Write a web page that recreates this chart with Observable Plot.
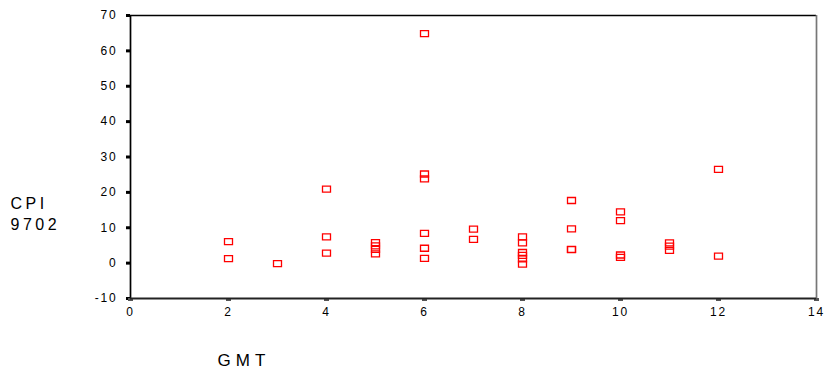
<!DOCTYPE html>
<html>
<head>
<meta charset="utf-8">
<script src="https://cdn.jsdelivr.net/npm/d3@7"></script>
<script src="https://cdn.jsdelivr.net/npm/@observablehq/plot@0.6"></script>
<style>
  html, body { margin: 0; padding: 0; background: #fff; }
  svg text { font-family: "Liberation Sans", Arial, sans-serif; }
</style>
</head>
<body>
<div id="chart"></div>
<script>
const gmt = [2, 2, 3, 4, 4, 4, 5, 5, 5, 5, 6, 6, 6, 6, 6, 6, 7, 7, 8, 8, 8, 8, 8, 8, 9, 9, 9, 9, 10, 10, 10, 10, 11, 11, 11, 12, 12];
const cpi = [6.1, 1.3, -0.15, 20.9, 7.4, 2.8, 5.8, 4.9, 3.9, 2.6, 64.9, 25.2, 23.8, 8.4, 4.2, 1.35, 9.6, 6.7, 7.4, 5.7, 3.0, 2.2, 1.2, -0.3, 17.7, 9.7, 3.9, 3.8, 14.5, 12.0, 2.3, 1.6, 5.7, 4.8, 3.6, 26.5, 2.0];
const xTicks = [0, 2, 4, 6, 8, 10, 12, 14];
const yTicks = [-10, 0, 10, 20, 30, 40, 50, 60, 70];
const yTitle = ["CPI", "9702"];
const xTitle = ["GMT"];

const points = gmt.map((g, i) => ({gmt: g, cpi: cpi[i]}));

const rectSymbol = {
  draw(ctx, size) {
    const w = 8, h = 6;
    ctx.moveTo(-w / 2, -h / 2);
    ctx.lineTo(w / 2, -h / 2);
    ctx.lineTo(w / 2, h / 2);
    ctx.lineTo(-w / 2, h / 2);
    ctx.closePath();
  }
};

const chart = Plot.plot({
  width: 824,
  height: 376,
  marginLeft: 130,
  marginRight: 8,
  marginTop: 15,
  marginBottom: 78,
  style: {fontFamily: "Liberation Sans, Arial, sans-serif", background: "#fff", color: "#000"},
  x: {domain: [0, 14]},
  y: {domain: [-10, 70]},
  marks: [
    Plot.axisY({ticks: yTicks, tickSize: 4, strokeWidth: 3, tickPadding: 9, fontSize: 12, label: null, tickFormat: d => String(d)}),
    Plot.axisX({ticks: xTicks, tickSize: 3, strokeWidth: 5, stroke: "#555", tickPadding: 6, fontSize: 12, label: null, tickFormat: d => String(d)}),
    Plot.ruleY([70], {stroke: "#000", strokeWidth: 1.3}),
    Plot.ruleX([0], {stroke: "#000", strokeWidth: 1.7}),
    Plot.ruleX([14], {stroke: "#777", strokeWidth: 1.7}),
    Plot.ruleY([-10], {stroke: "#222", strokeWidth: 1.8}),
    Plot.dot(points, {x: "gmt", y: "cpi", symbol: rectSymbol, r: 4, stroke: "#ff0000", strokeWidth: 1.3, fill: "none"}),
    Plot.text(yTitle, {text: d => d, frameAnchor: "top-left", textAnchor: "start", lineAnchor: "middle", fontSize: 16, fill: "#000"}),
    Plot.text(xTitle, {text: d => d, frameAnchor: "bottom-left", dx: 87, dy: 62, textAnchor: "start", lineAnchor: "middle", fontSize: 17, fill: "#000"})
  ]
});

const sel = d3.select(chart);
sel.selectAll("g[aria-label='y-axis tick label'] text, g[aria-label='x-axis tick label'] text").attr("letter-spacing", "1.8px");
const titleGroups = sel.selectAll("g[aria-label='text']").nodes();
if (titleGroups[0]) {
  d3.select(titleGroups[0]).selectAll("text").each(function(d, i) {
    d3.select(this).attr("transform", `translate(10,${i === 0 ? 203 : 224})`).attr("letter-spacing", "3.5px");
  });
}
if (titleGroups[1]) {
  d3.select(titleGroups[1]).selectAll("text").attr("letter-spacing", "5px");
}
document.getElementById("chart").appendChild(chart);
</script>
</body>
</html>
